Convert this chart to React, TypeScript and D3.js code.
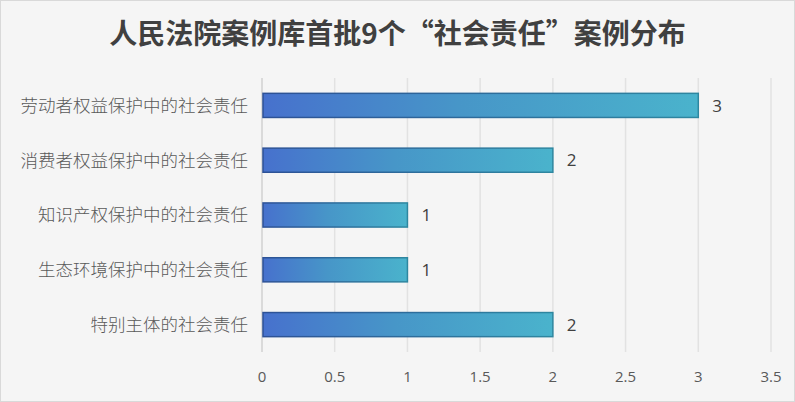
import * as d3 from "d3";

const categories = [
  "劳动者权益保护中的社会责任",
  "消费者权益保护中的社会责任",
  "知识产权保护中的社会责任",
  "生态环境保护中的社会责任",
  "特别主体的社会责任",
];
const counts = [3, 2, 1, 1, 2];
const xTicks = [0, 0.5, 1, 1.5, 2, 2.5, 3, 3.5];

const W = 795;
const H = 402;
const margin = { top: 78, right: 24, bottom: 50, left: 262 };

export default function App() {
  const x = d3.scaleLinear().domain([0, 3.5]).range([margin.left, 771]);
  const y = d3
    .scaleBand<string>()
    .domain(categories)
    .range([margin.top, H - margin.bottom])
    .paddingInner(0.56)
    .paddingOuter(0.28);

  return (
    <div style={{ position: "absolute", left: 0, top: 0 }}>
      <svg width={W} height={H} style={{ display: "block" }}>
        <defs>
          <linearGradient id="barFill" x1="0" x2="1" y1="0" y2="0">
            <stop offset="0%" stopColor="#4771cd" />
            <stop offset="45%" stopColor="#4796c8" />
            <stop offset="100%" stopColor="#4ab3cc" />
          </linearGradient>
          <linearGradient id="barStroke" x1="0" x2="1" y1="0" y2="0">
            <stop offset="0%" stopColor="#2d5196" />
            <stop offset="100%" stopColor="#2e87a0" />
          </linearGradient>
        </defs>
        <rect x={0.5} y={0.5} width={W - 1} height={H - 1} fill="#f5f5f5" stroke="#d9d9d9" />
        <text
          x={W / 2}
          y={44}
          textAnchor="middle"
          fontFamily="'Noto Sans CJK SC', sans-serif"
          fontWeight={700}
          fontSize={28}
          fill="#404040"
        >
          人民法院案例库首批9个“社会责任”案例分布
        </text>

        {/* gridlines */}
        {xTicks.slice(1).map((t) => (
          <line
            key={t}
            x1={x(t)}
            x2={x(t)}
            y1={margin.top}
            y2={H - margin.bottom}
            stroke="#e2e2e2"
            strokeWidth={1.5}
          />
        ))}
        <line
          x1={x(0)}
          x2={x(0)}
          y1={margin.top}
          y2={H - margin.bottom}
          stroke="#d0d0d0"
          strokeWidth={1.5}
        />

        {/* bars */}
        {categories.map((c, i) => {
          const by = y(c)!;
          return (
            <g key={c}>
              <rect
                x={x(0) + 1}
                y={by}
                width={x(counts[i]) - x(0) - 1}
                height={y.bandwidth()}
                fill="url(#barFill)"
                stroke="url(#barStroke)"
                strokeWidth={1.5}
              />
              <text
                x={x(counts[i]) + 14}
                y={by + y.bandwidth() / 2}
                dy="0.36em"
                fontFamily="'Open Sans', 'Noto Sans', sans-serif"
                fontSize={17}
                fill="#404040"
              >
                {counts[i]}
              </text>
              <text
                x={x(0) - 14}
                y={by + y.bandwidth() / 2}
                dy="0.36em"
                textAnchor="end"
                fontFamily="'Noto Sans CJK SC', sans-serif"
                fontWeight={300}
                fontSize={17.5}
                fill="#595959"
              >
                {c}
              </text>
            </g>
          );
        })}

        {/* x tick labels */}
        {xTicks.map((t) => (
          <text
            key={t}
            x={x(t)}
            y={382}
            textAnchor="middle"
            fontFamily="'Open Sans', 'Noto Sans', sans-serif"
            fontSize={15}
            fill="#595959"
          >
            {t}
          </text>
        ))}
      </svg>
    </div>
  );
}
